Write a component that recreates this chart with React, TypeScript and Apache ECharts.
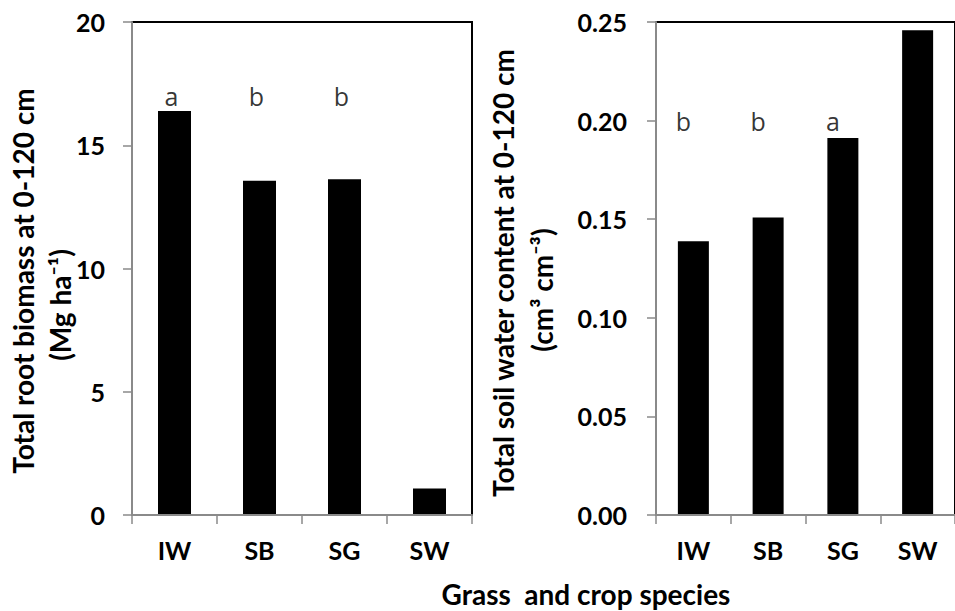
import React, { useEffect, useRef } from "react";
import * as echarts from "echarts";

const species = ["IW", "SB", "SG", "SW"];
const rootBiomass = [16.39, 13.56, 13.62, 1.07];
const soilWater = [0.1388, 0.1508, 0.1912, 0.2458];
const biomassLetters = ["a", "b", "b"];
const waterLetters = ["b", "b", "a"];
const biomassLetterLevel = 17;
const waterLetterLevel = 0.2;
const biomassTicks = { min: 0, max: 20, interval: 5 };
const waterTicks = { min: 0, max: 0.25, interval: 0.05 };
const biomassTitle = "Total root biomass at 0-120 cm";
const biomassUnit = "(Mg ha⁻¹)";
const waterTitle = "Total soil water content at 0-120 cm";
const waterUnit = "(cm³ cm⁻³)";
const xTitle = "Grass  and crop species";

const FONT = "Lato, 'Open Sans', sans-serif";
const GRAY = "#8a8a8a";

export default function App() {
  const ref = useRef<HTMLDivElement>(null);
  useEffect(() => {
    if (!ref.current) return;
    const chart = echarts.init(ref.current, undefined, { renderer: "svg" });

    const bottomX = (gi: number) => ({
      type: "category" as const,
      gridIndex: gi,
      data: species,
      position: "bottom" as const,
      axisLine: { show: true, onZero: false, lineStyle: { color: GRAY, width: 2 } },
      axisTick: { show: true, length: 9, lineStyle: { color: GRAY, width: 1.5 } },
      axisLabel: { color: "#000", fontFamily: FONT, fontWeight: "bold" as const, fontSize: 25, margin: 22 },
      z: 5,
    });
    const leftY = (gi: number, t: any, dec: number, margin: number) => ({
      type: "value" as const,
      gridIndex: gi,
      position: "left" as const,
      min: t.min,
      max: t.max,
      interval: t.interval,
      axisLine: { show: true, onZero: false, lineStyle: { color: GRAY, width: 2 } },
      axisTick: { show: true, length: 9, lineStyle: { color: GRAY, width: 1.5 } },
      splitLine: { show: false },
      axisLabel: {
        color: "#000",
        fontFamily: FONT,
        fontWeight: "bold" as const,
        fontSize: 25,
        margin,
        formatter: (v: number) => v.toFixed(dec),
      },
      z: 5,
    });

    const letterSeries = (xi: number, yi: number, letters: string[], level: number, dx: number) => ({
      type: "scatter" as const,
      xAxisIndex: xi,
      yAxisIndex: yi,
      symbolSize: 0,
      silent: true,
      data: letters.map((l, i) => ({ value: [species[i], level], name: l })),
      label: {
        show: true,
        position: "inside" as const,
        offset: [dx, 0],
        formatter: (p: any) => p.name,
        color: "#000",
        fontFamily: "'Open Sans', Lato, sans-serif",
        fontWeight: "normal" as const,
        fontSize: 25,
      },
    });

    const titleFont = `bold 28px ${FONT}`;

    chart.setOption({
      animation: false,
      backgroundColor: "#fff",
      grid: [
        { left: 132, top: 22, width: 340, height: 493, show: true, borderColor: "#000", borderWidth: 2, backgroundColor: "transparent" },
        { left: 656, top: 22, width: 308, height: 493, show: true, borderColor: "#000", borderWidth: 2, backgroundColor: "transparent" },
      ],
      xAxis: [bottomX(0), bottomX(1)],
      yAxis: [leftY(0, biomassTicks, 0, 27), leftY(1, waterTicks, 2, 29)],
      series: [
        {
          type: "bar",
          xAxisIndex: 0,
          yAxisIndex: 0,
          data: rootBiomass,
          barWidth: 33,
          itemStyle: { color: "#000" },
        },
        {
          type: "bar",
          xAxisIndex: 1,
          yAxisIndex: 1,
          data: soilWater,
          barWidth: 31,
          itemStyle: { color: "#000" },
        },
        letterSeries(0, 0, biomassLetters, biomassLetterLevel, -3),
        letterSeries(1, 1, waterLetters, waterLetterLevel, -10),
      ],
      graphic: [
        {
          type: "text",
          x: 23,
          y: 281,
          rotation: Math.PI / 2,
          style: { text: biomassTitle, font: titleFont, fill: "#000", align: "center", verticalAlign: "middle" },
        },
        {
          type: "text",
          x: 60,
          y: 305,
          rotation: Math.PI / 2,
          style: { text: biomassUnit, font: titleFont, fill: "#000", align: "center", verticalAlign: "middle" },
        },
        {
          type: "text",
          x: 503,
          y: 273,
          rotation: Math.PI / 2,
          style: { text: waterTitle, font: titleFont, fill: "#000", align: "center", verticalAlign: "middle" },
        },
        {
          type: "text",
          x: 542,
          y: 290,
          rotation: Math.PI / 2,
          style: { text: waterUnit, font: titleFont, fill: "#000", align: "center", verticalAlign: "middle" },
        },
        {
          type: "text",
          x: 586,
          y: 594,
          style: { text: xTitle, font: titleFont, fill: "#000", align: "center", verticalAlign: "middle" },
        },
      ],
    });
    return () => chart.dispose();
  }, []);
  return (
    <div
      ref={ref}
      style={{ position: "absolute", left: 0, top: 0, width: 955, height: 611, background: "#fff" }}
    />
  );
}
